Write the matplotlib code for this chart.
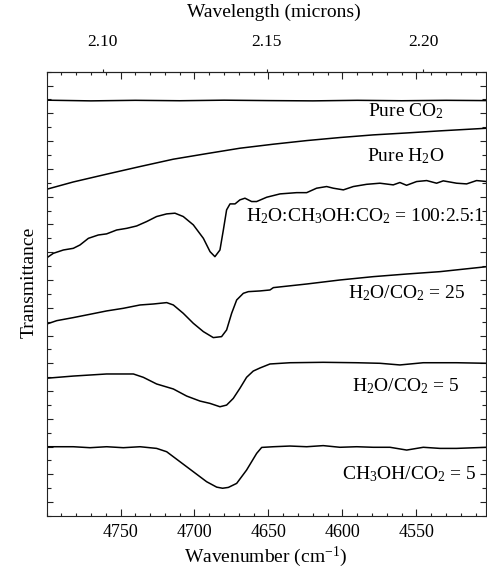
import numpy as np
import matplotlib
matplotlib.use('Agg')
import matplotlib.pyplot as plt
from matplotlib.ticker import MultipleLocator, FixedLocator, NullLocator

plt.rcParams['font.family'] = ['Liberation Serif', 'DejaVu Serif']
plt.rcParams['mathtext.fontset'] = 'custom'
plt.rcParams['mathtext.rm'] = 'Liberation Serif'
plt.rcParams['mathtext.it'] = 'Liberation Serif:italic'
plt.rcParams['mathtext.bf'] = 'Liberation Serif:bold'

# ---------------- data (wavenumber in cm^-1, offset transmittance in arbitrary units)
co2_wn = [4800, 4770, 4740, 4710, 4680, 4650, 4620, 4590, 4560, 4530, 4503]
co2_y = [29.95, 29.90, 29.94, 29.91, 29.95, 29.92, 29.90, 29.94, 29.91, 29.94, 29.92]

h2o_wn = [4800, 4781.9, 4759.4, 4736.8, 4714.3, 4691.8, 4669.3, 4646.7, 4624.2,
          4601.7, 4579.2, 4556.6, 4534.1, 4502.4]
h2o_y = [23.53, 24.06, 24.62, 25.17, 25.70, 26.10, 26.49, 26.78, 27.04,
         27.26, 27.45, 27.59, 27.74, 27.93]

mix_wn = [4800.3, 4795.4, 4788.6, 4781.9, 4777.4, 4771.7, 4765.0, 4759.4, 4752.6,
          4745.8, 4739.1, 4732.3, 4725.6, 4718.8, 4713.2, 4707.6, 4700.8, 4694.0,
          4689.5, 4686.2, 4682.8, 4680.5, 4678.3, 4676.0, 4672.6, 4669.3, 4665.9,
          4661.4, 4658.0, 4651.2, 4642.2, 4631.0, 4624.2, 4617.5, 4610.7, 4606.2,
          4599.4, 4592.7, 4583.7, 4574.7, 4565.7, 4561.2, 4556.7, 4549.9, 4543.1,
          4536.4, 4531.9, 4522.9, 4516.1, 4509.4, 4502.4]
mix_y = [18.56, 18.92, 19.16, 19.28, 19.52, 20.00, 20.24, 20.32, 20.60,
         20.72, 20.89, 21.21, 21.57, 21.76, 21.81, 21.57, 20.97, 20.00,
         19.04, 18.68, 19.16, 20.60, 22.05, 22.48, 22.48, 22.77, 22.89,
         22.65, 22.65, 22.96, 23.20, 23.29, 23.29, 23.61, 23.73, 23.61,
         23.49, 23.73, 23.89, 23.97, 23.85, 24.02, 23.82, 24.09, 24.16,
         23.97, 24.14, 23.97, 23.92, 24.16, 24.09]

r25_wn = [4800.3, 4793.1, 4781.9, 4770.6, 4759.4, 4748.1, 4736.8, 4727.8, 4718.8,
          4714.3, 4707.6, 4700.8, 4694.0, 4687.3, 4681.7, 4678.3, 4674.9, 4671.5,
          4667.0, 4663.6, 4655.8, 4649.0, 4646.7, 4624.2, 4601.7, 4579.2, 4556.6,
          4534.1, 4502.4]
r25_y = [13.81, 14.07, 14.29, 14.53, 14.77, 14.96, 15.20, 15.27, 15.37,
         15.20, 14.60, 13.88, 13.28, 12.85, 12.92, 13.40, 14.60, 15.56,
         16.04, 16.16, 16.21, 16.28, 16.45, 16.71, 17.00, 17.24, 17.43,
         17.60, 17.96]

r5_wn = [4800.3, 4781.9, 4759.4, 4741.3, 4734.6, 4725.6, 4714.3, 4705.3, 4696.3,
         4689.5, 4682.8, 4678.3, 4673.8, 4669.3, 4664.8, 4660.3, 4655.8, 4649.0,
         4635.5, 4613.0, 4590.4, 4574.7, 4561.2, 4545.4, 4522.9, 4502.4]
r5_y = [9.92, 10.08, 10.23, 10.23, 9.99, 9.51, 9.15, 8.64, 8.28,
        8.11, 7.87, 7.99, 8.47, 9.20, 9.99, 10.44, 10.66, 10.95,
        11.04, 11.07, 11.04, 11.00, 10.88, 11.04, 11.04, 11.00]

meth_wn = [4800.3, 4781.9, 4770.6, 4759.4, 4748.1, 4736.8, 4725.6, 4718.8, 4709.8,
           4700.8, 4691.8, 4685.0, 4681.0, 4677.1, 4671.5, 4664.8, 4658.0, 4654.6,
           4646.7, 4635.5, 4624.2, 4613.0, 4601.7, 4590.4, 4579.2, 4567.9, 4556.6,
           4545.4, 4534.1, 4522.9, 4502.4]
meth_y = [4.99, 4.99, 4.92, 4.99, 4.92, 4.99, 4.87, 4.63, 3.91,
          3.19, 2.47, 2.08, 2.00, 2.06, 2.35, 3.31, 4.51, 4.94,
          4.99, 5.04, 4.99, 5.07, 4.95, 4.99, 4.95, 4.95, 4.75,
          4.95, 4.87, 4.87, 4.95]

labels = ["Pure CO$_2$", "Pure H$_2$O", "H$_2$O:CH$_3$OH:CO$_2$ = 100:2.5:1",
          "H$_2$O/CO$_2$ = 25", "H$_2$O/CO$_2$ = 5", "CH$_3$OH/CO$_2$ = 5"]
label_wn = [4582.8, 4583.6, 4504.0, 4596.1, 4593.8, 4600.5]
label_y = [28.82, 25.53, 21.20, 15.68, 8.96, 2.64]
label_ha = ['left', 'left', 'right', 'left', 'left', 'left']

wn_major = [4750, 4700, 4650, 4600, 4550]
wl_ticks = [2.10, 2.15, 2.20]

# ---------------- figure
fig = plt.figure(figsize=(4.87, 5.71), dpi=100)
ax = fig.add_axes([0.0955, 0.0963, 0.9025, 0.7781])

series = [(co2_wn, co2_y), (h2o_wn, h2o_y), (mix_wn, mix_y),
          (r25_wn, r25_y), (r5_wn, r5_y), (meth_wn, meth_y)]
for xs, ys in series:
    ax.plot(xs, ys, color='black', lw=1.1, solid_joinstyle='round')

for t, x, y, ha in zip(labels, label_wn, label_y, label_ha):
    ax.text(x, y, t, ha=ha, va='baseline', fontsize=14, color='black')

ax.set_xlim(4800, 4503)
ax.set_ylim(0, 32)

ax.xaxis.set_major_locator(FixedLocator(wn_major))
ax.xaxis.set_minor_locator(MultipleLocator(10))
ax.yaxis.set_major_locator(FixedLocator(np.arange(1, 32, 2)))
ax.yaxis.set_minor_locator(FixedLocator(np.arange(0, 33, 2)))

ax.tick_params(axis='x', which='both', direction='in', top=True, bottom=True,
               labeltop=False, labelsize=13, pad=6, width=0.8, color='#222222')
ax.tick_params(axis='x', which='major', length=5)
ax.tick_params(axis='x', which='minor', length=2.2)
ax.tick_params(axis='y', which='both', direction='in', left=True, right=True,
               labelleft=False, width=0.8, color='#222222')
ax.tick_params(axis='y', which='major', length=4.5)
ax.tick_params(axis='y', which='minor', length=3)

for s in ax.spines.values():
    s.set_linewidth(0.8)
    s.set_color('#222222')


def wn2um(w):
    w = np.asarray(w, dtype=float)
    with np.errstate(divide='ignore'):
        return 10000.0 / w


sec = ax.secondary_xaxis('top', functions=(wn2um, wn2um))
sec.xaxis.set_major_locator(FixedLocator(wl_ticks))
sec.xaxis.set_minor_locator(NullLocator())
sec.set_xticklabels(['%.2f' % v for v in wl_ticks])
sec.tick_params(direction='out', length=2.5, width=0.8, pad=13, labelsize=12.5,
                color='#222222')
sec.spines['top'].set_linewidth(0.8)
sec.spines['top'].set_color('#222222')

fig.text(0.5626, 0.978, "Wavelength (microns)", ha='center', va='center', fontsize=14)
fig.text(0.546, 0.004, "Wavenumber (cm$^{-1}$)", ha='center', va='bottom', fontsize=14)
fig.text(0.06, 0.505, "Transmittance", ha='center', va='center', rotation=90, fontsize=14)

fig.savefig('out.png', dpi=100)
